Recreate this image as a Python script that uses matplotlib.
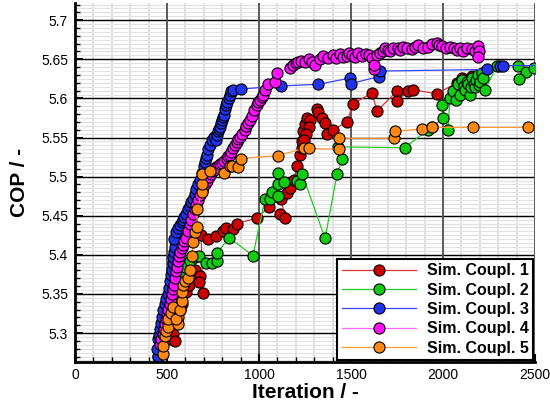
import matplotlib
matplotlib.use("Agg")
import matplotlib.pyplot as plt
import numpy as np
from matplotlib.ticker import MultipleLocator

plt.rcParams['font.family'] = ['Liberation Sans', 'DejaVu Sans']

# ---- data -------------------------------------------------------------
labels = ["Sim. Coupl. 1", "Sim. Coupl. 2", "Sim. Coupl. 3", "Sim. Coupl. 4", "Sim. Coupl. 5"]

x1 = [516, 533, 543, 554, 571, 582, 603, 620, 652, 679, 674, 696, 685, 723, 766, 804, 821, 859, 880, 989,
      1054, 1114, 1141, 1120, 1152, 1168, 1190, 1207, 1223, 1234, 1234, 1239, 1250, 1261, 1277, 1272, 1255, 1245,
      1315, 1321, 1342, 1359, 1370, 1402, 1478, 1511, 1614, 1641, 1750, 1750, 1810, 1837, 1967, 2076, 2103, 2082,
      2125, 2158, 2190]
y1 = [5.292, 5.299, 5.290, 5.315, 5.330, 5.337, 5.353, 5.362, 5.381, 5.373, 5.365, 5.351, 5.425, 5.420, 5.424,
      5.431, 5.434, 5.433, 5.440, 5.447, 5.461, 5.452, 5.447, 5.472, 5.479, 5.486, 5.496, 5.513, 5.528, 5.537,
      5.546, 5.558, 5.567, 5.575, 5.573, 5.564, 5.554, 5.547, 5.587, 5.582, 5.575, 5.569, 5.555, 5.560, 5.570,
      5.593, 5.607, 5.584, 5.609, 5.597, 5.609, 5.611, 5.606, 5.620, 5.626, 5.614, 5.624, 5.629, 5.624]

x2 = [451, 462, 473, 489, 505, 516, 527, 543, 571, 598, 625, 652, 674, 712, 745, 772, 772, 837, 967, 1033,
      1060, 1071, 1103, 1103, 1103, 1136, 1207, 1223, 1234, 1359, 1424, 1451, 1429, 1793, 1918, 1940, 2000, 1995,
      2027, 2038, 2054, 2071, 2082, 2092, 2103, 2112, 2120, 2128, 2136, 2147, 2152, 2158, 2166, 2174, 2182, 2190,
      2196, 2201, 2212, 2220, 2228, 2294, 2408, 2451, 2413, 2495]
y2 = [5.269, 5.277, 5.292, 5.305, 5.320, 5.337, 5.343, 5.356, 5.375, 5.384, 5.392, 5.397, 5.399, 5.390, 5.390,
      5.392, 5.402, 5.422, 5.399, 5.472, 5.471, 5.480, 5.475, 5.491, 5.505, 5.493, 5.495, 5.491, 5.504, 5.421,
      5.503, 5.522, 5.538, 5.537, 5.560, 5.563, 5.575, 5.591, 5.560, 5.601, 5.609, 5.598, 5.618, 5.605, 5.624,
      5.616, 5.611, 5.621, 5.618, 5.605, 5.614, 5.626, 5.619, 5.614, 5.624, 5.630, 5.617, 5.621, 5.633, 5.626,
      5.611, 5.642, 5.642, 5.634, 5.625, 5.639]

x3 = [451, 446, 451, 457, 462, 468, 473, 480, 489, 497, 505, 510, 516, 522, 527, 530, 533, 540, 543, 538,
      549, 560, 571, 580, 587, 595, 603, 614, 625, 633, 641, 650, 658, 668, 679, 690, 701, 707, 712, 717,
      725, 734, 745, 755, 766, 770, 777, 782, 788, 794, 799, 805, 810, 815, 820, 826, 835, 842, 850, 859,
      902, 1120, 1321, 1495, 1500, 1652, 1658, 2239, 2310, 2326, 2560]
y3 = [5.271, 5.279, 5.292, 5.298, 5.305, 5.313, 5.320, 5.330, 5.337, 5.344, 5.350, 5.358, 5.366, 5.374, 5.381,
      5.389, 5.397, 5.404, 5.410, 5.420, 5.429, 5.434, 5.438, 5.442, 5.445, 5.448, 5.452, 5.458, 5.463, 5.467,
      5.471, 5.478, 5.484, 5.490, 5.496, 5.505, 5.513, 5.519, 5.524, 5.528, 5.535, 5.541, 5.547, 5.551, 5.547,
      5.553, 5.558, 5.561, 5.563, 5.568, 5.573, 5.576, 5.579, 5.586, 5.591, 5.596, 5.601, 5.605, 5.609, 5.611,
      5.612, 5.616, 5.618, 5.626, 5.619, 5.628, 5.635, 5.637, 5.642, 5.642, 5.642]

x4 = [462, 470, 478, 484, 489, 495, 500, 508, 516, 520, 527, 532, 538, 543, 549, 554, 560, 565, 571, 580,
      587, 595, 603, 614, 625, 633, 641, 650, 658, 668, 679, 688, 696, 706, 717, 728, 739, 746, 755, 766,
      777, 788, 799, 812, 826, 834, 842, 850, 859, 870, 880, 888, 897, 910, 924, 932, 940, 950, 962, 975,
      989, 996, 1005, 1014, 1022, 1035, 1049, 1087, 1098, 1168, 1185, 1200, 1212, 1230, 1250, 1270, 1290, 1304,
      1330, 1350, 1375, 1400, 1420, 1440, 1457, 1478, 1490, 1505, 1520, 1538, 1560, 1582, 1600, 1614, 1625,
      1625, 1640, 1655, 1674, 1685, 1700, 1712, 1730, 1755, 1766, 1785, 1804, 1830, 1850, 1864, 1890, 1918,
      1940, 1967, 1980, 1995, 2015, 2038, 2060, 2075, 2092, 2109, 2130, 2158, 2175, 2190, 2196, 2190]
y4 = [5.286, 5.292, 5.299, 5.305, 5.311, 5.318, 5.324, 5.330, 5.337, 5.343, 5.350, 5.356, 5.362, 5.371, 5.379,
      5.385, 5.392, 5.398, 5.404, 5.409, 5.413, 5.418, 5.422, 5.430, 5.439, 5.445, 5.452, 5.458, 5.464, 5.470,
      5.477, 5.482, 5.487, 5.491, 5.494, 5.500, 5.504, 5.507, 5.509, 5.512, 5.513, 5.516, 5.518, 5.520, 5.522,
      5.526, 5.528, 5.532, 5.537, 5.540, 5.544, 5.548, 5.551, 5.555, 5.560, 5.565, 5.569, 5.573, 5.578, 5.585,
      5.592, 5.595, 5.598, 5.602, 5.605, 5.611, 5.618, 5.621, 5.633, 5.639, 5.643, 5.645, 5.647, 5.648, 5.647,
      5.650, 5.646, 5.643, 5.650, 5.654, 5.652, 5.656, 5.652, 5.657, 5.653, 5.654, 5.658, 5.656, 5.653, 5.658,
      5.654, 5.657, 5.655, 5.652, 5.637, 5.643, 5.655, 5.658, 5.660, 5.665, 5.662, 5.660, 5.664, 5.665, 5.662,
      5.666, 5.665, 5.663, 5.666, 5.668, 5.665, 5.666, 5.669, 5.671, 5.668, 5.667, 5.664, 5.666, 5.665, 5.662,
      5.665, 5.661, 5.664, 5.663, 5.660, 5.667, 5.661, 5.653]

x5 = [478, 478, 489, 495, 505, 505, 520, 533, 560, 560, 549, 570, 582, 582, 587, 600, 614, 625, 636, 641,
      652, 663, 663, 690, 690, 690, 734, 810, 842, 853, 886, 902, 1103, 1245, 1272, 1435, 1435, 1734, 1739,
      1886, 1940, 2163, 2462, 2560]
y5 = [5.273, 5.283, 5.296, 5.302, 5.308, 5.318, 5.326, 5.333, 5.320, 5.311, 5.318, 5.330, 5.341, 5.352, 5.362,
      5.366, 5.371, 5.381, 5.398, 5.416, 5.429, 5.436, 5.458, 5.480, 5.490, 5.503, 5.507, 5.505, 5.514, 5.513,
      5.512, 5.523, 5.527, 5.536, 5.536, 5.535, 5.549, 5.549, 5.558, 5.561, 5.563, 5.563, 5.563, 5.563]

series_x = [x1, x2, x3, x4, x5]
series_y = [y1, y2, y3, y4, y5]
face_colors = ["#cc0000", "#11cc11", "#2233ee", "#ff11ff", "#ff8811"]
line_colors = ["#dd3333", "#22cc22", "#3344ff", "#ff66ff", "#ff9933"]

# ---- figure -----------------------------------------------------------
fig = plt.figure(figsize=(5.5, 4.07), dpi=100)
ax = fig.add_axes([75/550, 1-362/407, 460/550, 359/407])

xmin, xmax, ymin, ymax = 0, 2500, 5.263, 5.722

# grid drawn explicitly (minor first, then major on top)
for gx in np.arange(100, 2500, 100):
    ax.axvline(gx, color='#dcdcdc', lw=1.2, zorder=0.5)
for gy in np.arange(5.265, 5.7201, 0.005):
    ax.axhline(gy, color='#e2e2e2', lw=0.9, zorder=0.5)
for gy in [5.3, 5.35, 5.4, 5.45, 5.5, 5.55, 5.6, 5.65, 5.7]:
    ax.axhline(gy, color='black', lw=1.0, zorder=0.8)
for gx in [500, 1000, 1500, 2000, 2500]:
    ax.axvline(gx, color='#505050', lw=1.3, zorder=0.9)

for xs, ys, fc, lc, lab in zip(series_x, series_y, face_colors, line_colors, labels):
    ax.plot(xs, ys, '-', color=lc, lw=0.9, marker='o', ms=8, mfc=fc, mec='black', mew=0.8,
            label=lab, zorder=2)

ax.set_xlim(xmin, xmax)
ax.set_ylim(ymin, ymax)
ax.xaxis.set_minor_locator(MultipleLocator(100))
ax.yaxis.set_minor_locator(MultipleLocator(0.01))
ax.set_yticks([5.3, 5.35, 5.4, 5.45, 5.5, 5.55, 5.6, 5.65, 5.7])
ax.set_yticklabels(["5.3", "5.35", "5.4", "5.45", "5.5", "5.55", "5.6", "5.65", "5.7"])
ax.set_xticks([0, 500, 1000, 1500, 2000, 2500])
ax.set_xticklabels(["0", "500", "1000", "1500", "2000", "2500"])

for s in ['top', 'right']:
    ax.spines[s].set_visible(False)
for s in ['left', 'bottom']:
    ax.spines[s].set_linewidth(2)
    ax.spines[s].set_zorder(3)

ax.tick_params(which='major', direction='in', length=6, width=1.5, labelsize=10, pad=4)
ax.tick_params(which='minor', direction='in', length=3.5, width=1.0)
ax.tick_params(axis='y', pad=5)

ax.set_xlabel("Iteration / -", fontsize=15, fontweight='bold', labelpad=1)
ax.set_ylabel("COP / -", fontsize=15, fontweight='bold', labelpad=9)

leg = ax.legend(loc='lower right', bbox_to_anchor=(1.0, 0.0), borderaxespad=0.1, numpoints=1,
                handlelength=4.6, handletextpad=0.7, labelspacing=0.27, borderpad=0.3,
                prop={'weight': 'bold', 'size': 11.5}, fancybox=False, framealpha=1, edgecolor='black')
leg.get_frame().set_linewidth(1.5)
leg.set_zorder(5)

fig.savefig("out.png", dpi=100)
